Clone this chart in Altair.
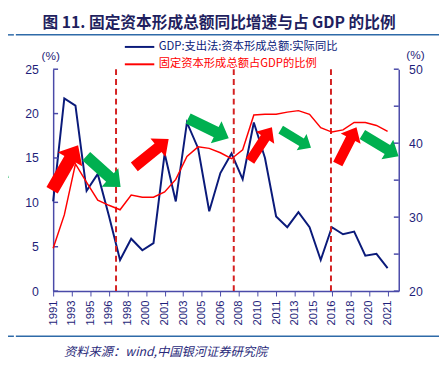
import json
import altair as alt
import pandas as pd

# ---------------- data ----------------
years = list(range(1991, 2022))
gcf_real_growth = [10.1, 21.7, 20.9, 11.3, 13.2, 8.5, 3.5, 5.9, 4.6, 5.4,
                   15.5, 10.1, 19.0, 16.1, 9.0, 13.3, 15.5, 12.6, 19.0, 15.0,
                   8.4, 7.2, 8.9, 7.2, 3.5, 7.2, 6.4, 6.7, 4.0, 4.2, 2.6]
gfcf_share_gdp = [25.8, 30.3, 37.2, 34.7, 32.3, 31.6, 31.0, 33.0, 32.7, 32.7,
                  33.4, 35.1, 38.2, 39.5, 39.3, 38.7, 37.9, 39.1, 43.8, 43.9,
                  43.9, 44.2, 44.4, 43.9, 42.1, 41.5, 41.8, 42.8, 42.8, 42.4, 41.6]

tick_labels = ["1991", "1993", "1995", "1996", "1998", "2000", "2001", "2003",
               "2005", "2006", "2008", "2010", "2011", "2013", "2015", "2016",
               "2018", "2020", "2021"]
tick_positions = [1991 + k * 5 / 3 for k in range(len(tick_labels))]
left_ticks = [0, 5, 10, 15, 20, 25]
right_ticks = [20, 25, 30, 35, 40, 45, 50]

cycle_breaks = [1996.64, 2007.2, 2015.92]

arrow_year = [1985.5, 1992.07, 1995.51, 1999.82, 2004.93, 2009.64, 2012.77, 2017.37, 2020.36]
arrow_val = [14.0, 13.9, 13.46, 15.56, 18.33, 16.56, 17.17, 16.39, 16.43]
arrow_len = [41, 53, 47, 45, 46, 41, 36, 42, 43]
arrow_angle = [33, 300, 42, 321, 26, 303, 31, 297, 31]
arrow_color = ["#00b050", "#ff0000", "#00b050", "#ff0000", "#00b050",
               "#ff0000", "#00b050", "#ff0000", "#00b050"]

NAME_BLUE = "GDP:支出法:资本形成总额:实际同比"
NAME_RED = "固定资本形成总额占GDP的比例"
TITLE = "图 11. 固定资本形成总额同比增速与占 GDP 的比例"
SOURCE = "资料来源：wind,中国银河证券研究院"

NAVY = "#0a1a7a"
AXIS_C = "#4a4aa8"
LABEL_C = "#1f1f7a"
RED = "#ff0000"
CJK = "Noto Sans CJK SC"

W, H = 352, 226

df = pd.DataFrame({"year": years, "growth": gcf_real_growth, "share": gfcf_share_gdp})
one = pd.DataFrame({"k": [0]})
arrows = pd.DataFrame({"year": arrow_year, "val": arrow_val,
                       "size": [l * l for l in arrow_len],
                       "angle": arrow_angle, "color": arrow_color})
breaks = pd.DataFrame({"year": cycle_breaks})
lt = pd.DataFrame({"v": left_ticks})
rt = pd.DataFrame({"v": right_ticks})

xscale = alt.Scale(domain=[1991, 2022], nice=False, zero=False)
yl_scale = alt.Scale(domain=[0, 25], nice=False, zero=False)
yr_scale = alt.Scale(domain=[20, 50], nice=False, zero=False)

x_axis = alt.Axis(values=tick_positions, tickCount=len(tick_positions) + 5,
                  labelExpr=f"{json.dumps(tick_labels)}[round((datum.value-1991)*3/5)]",
                  labelAngle=270, tickSize=5, tickColor=AXIS_C, domainColor=AXIS_C,
                  domainWidth=1.5, labelColor=LABEL_C, labelFont="Liberation Sans",
                  labelFontSize=11.5, labelPadding=4, grid=False, title=None,
                  labelOverlap=False)


def xenc(field="year"):
    return alt.X(f"{field}:Q", scale=xscale, axis=x_axis)


blue = alt.Chart(df).mark_line(color=NAVY, strokeWidth=2).encode(
    x=xenc(),
    y=alt.Y("growth:Q", scale=yl_scale,
            axis=alt.Axis(values=left_ticks, ticks=False, tickSize=0, labelPadding=15,
                          domainColor=AXIS_C, domainWidth=1.5, labelColor=LABEL_C,
                          labelFont="Liberation Sans", labelFontSize=12.5,
                          grid=False, title=None)),
)

left_tick_marks = alt.Chart(lt).mark_rule(color=AXIS_C, strokeWidth=1.5).encode(
    y=alt.Y("v:Q", scale=yl_scale), x=alt.value(0), x2=alt.value(5))

dashed = alt.Chart(breaks).mark_rule(color="#d42020", strokeWidth=2,
                                     strokeDash=[6, 4]).encode(x=xenc())

arrow_path = "M-1,-0.25L0.38,-0.25L0.38,-0.54L1,0L0.38,0.54L0.38,0.25L-1,0.25Z"
arrow_marks = alt.Chart(arrows).mark_point(shape=arrow_path, filled=True, opacity=1,
                                           strokeWidth=0, clip=False).encode(
    x=xenc(),
    y=alt.Y("val:Q", scale=yl_scale),
    size=alt.Size("size:Q", scale=None),
    angle=alt.Angle("angle:Q", scale=None),
    color=alt.Color("color:N", scale=None),
)


def txt(text, x, y, **kw):
    return alt.Chart(one).mark_text(text=text, **kw).encode(x=alt.value(x), y=alt.value(y))


def hline(x1, x2, y, color, width):
    return alt.Chart(one).mark_rule(color=color, strokeWidth=width).encode(
        x=alt.value(x1), x2=alt.value(x2), y=alt.value(y))


title = txt(TITLE, 169, -47, font=CJK, fontSize=16, fontWeight="bold",
            color="#1f1f5f", align="center", baseline="middle")
top_line1 = hline(-54, -40, -35, "#2e6aa8", 1.5)
top_line2 = hline(-38, 393, -35, "#2e6aa8", 1.5)
bot_line1 = hline(-54, -40, 272, "#2e6aa8", 1.5)
bot_line2 = hline(-38, 393, 272, "#2e6aa8", 1.5)

leg_line1 = hline(73, 103, -22.7, NAVY, 2)
leg_text1 = txt(NAME_BLUE, 107.5, -22.7, font=CJK, fontSize=11.5, color=NAVY,
                align="left", baseline="middle")
leg_line2 = hline(73, 103, -5, RED, 2)
leg_text2 = txt(NAME_RED, 107.5, -5, font=CJK, fontSize=11.5, color=RED,
                align="left", baseline="middle")

pct_left = txt("(%)", -2.5, -13.5, font="Liberation Sans", fontSize=12,
               color=LABEL_C, align="center", baseline="middle")
pct_right = txt("(%)", 369, -14.5, font="Liberation Sans", fontSize=12,
                color=LABEL_C, align="center", baseline="middle")
source = txt(SOURCE, 11, 288, font=CJK, fontSize=12.5, fontStyle="italic",
             color="#2a2a7a", align="left", baseline="middle")
stamp = txt("2023 02", -44, 239.8, font="Liberation Sans", fontSize=12,
            color="#3a3a7a", align="center", baseline="bottom", angle=270)

red = alt.Chart(df).mark_line(color=RED, strokeWidth=1.5).encode(
    x=xenc(),
    y=alt.Y("share:Q", scale=yr_scale,
            axis=alt.Axis(orient="right", values=right_ticks, ticks=False, tickSize=0,
                          labelPadding=10, domainColor=AXIS_C, domainWidth=1.5,
                          labelColor=LABEL_C, labelFont="Liberation Sans",
                          labelFontSize=12.5, grid=False, title=None)),
)
right_tick_marks = alt.Chart(rt).mark_rule(color=AXIS_C, strokeWidth=1.5).encode(
    y=alt.Y("v:Q", scale=yr_scale), x=alt.value(W - 5), x2=alt.value(W))

left_layer = alt.layer(blue, left_tick_marks, dashed, arrow_marks, title, top_line1,
                       top_line2, bot_line1, bot_line2, leg_line1, leg_text1,
                       leg_line2, leg_text2, pct_left, pct_right, source, stamp)
right_layer = alt.layer(red, right_tick_marks)

chart = alt.layer(left_layer, right_layer).resolve_scale(y="independent").properties(
    width=W, height=H,
    autosize=alt.AutoSizeParams(type="none"),
    padding={"left": 46, "top": 59, "right": 41, "bottom": 76},
).configure_view(stroke=None)

chart.save("out.html", embed_options={"renderer": "svg", "actions": False})
